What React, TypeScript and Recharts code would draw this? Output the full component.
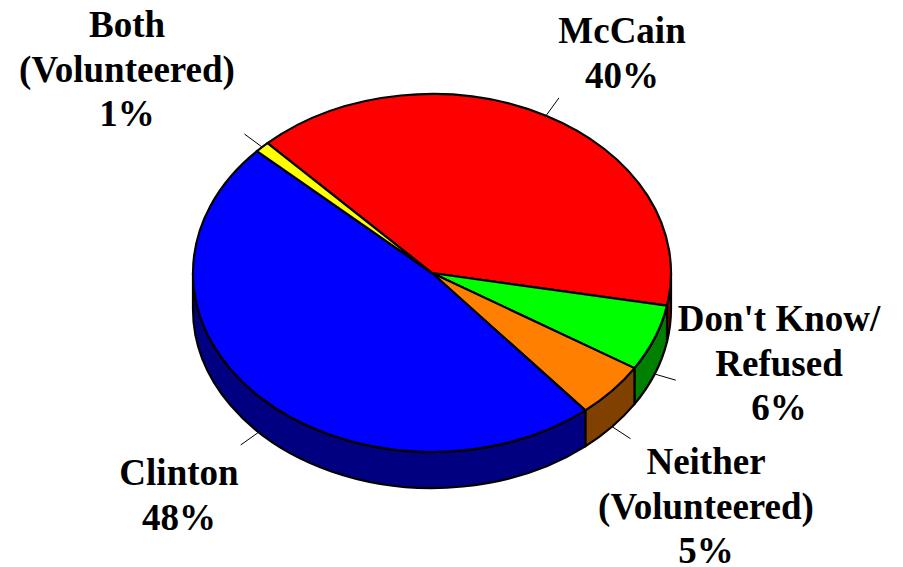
import React from 'react';
import { PieChart, Pie } from 'recharts';

// ---- data ----
const categories = ['McCain', "Don't Know/Refused", 'Neither (Volunteered)', 'Clinton', 'Both (Volunteered)'];
const shares = [40, 6, 5, 48, 1];
const labelNames = [['McCain'], ["Don't Know/", 'Refused'], ['Neither', '(Volunteered)'], ['Clinton'], ['Both', '(Volunteered)']];

// ---- styles / layout ----
const topColors = ['#FF0000', '#00FF00', '#FF8000', '#0000FF', '#FFFF00'];
const sideColors = ['#800000', '#008000', '#804000', '#000080', '#808000'];
const labelPos = [
  { x: 622, y: 43 },
  { x: 779, y: 331 },
  { x: 706, y: 474 },
  { x: 179, y: 485 },
  { x: 127, y: 37 },
];
const K = 0.749; // vertical squash of the tilted pie
const DEPTH = 36;
const LINE_H = 44.5;
const LEADER = 22;

const data = categories.map((name, i) => ({ name, value: shares[i] }));

const rad = (d: number) => (d * Math.PI) / 180;

function frontPieces(a0: number, a1: number): [number, number][] {
  const out: [number, number][] = [];
  for (let n = -2; n <= 2; n++) {
    const lo = -180 + 360 * n;
    const hi = 360 * n;
    const a = Math.max(a0, lo);
    const b = Math.min(a1, hi);
    if (b > a + 1e-6) out.push([a, b]);
  }
  return out;
}

const renderSlice = (props: any) => {
  const { cx, cy, outerRadius, startAngle, endAngle, index, value } = props;
  const rx = outerRadius;
  const ry = outerRadius * K;
  const P = (t: number, dy = 0) => [cx + rx * Math.cos(rad(t)), cy - ry * Math.sin(rad(t)) + dy];
  const s = Math.max(startAngle, endAngle);
  const e = Math.min(startAngle, endAngle);
  const large = s - e > 180 ? 1 : 0;
  const ps = P(s);
  const pe = P(e);
  const top = `M${cx},${cy} L${ps[0]},${ps[1]} A${rx},${ry} 0 ${large} 1 ${pe[0]},${pe[1]} Z`;
  const sides = frontPieces(e, s).map(([a, b]) => {
    const pb = P(b);
    const pa = P(a);
    const pa2 = P(a, DEPTH);
    const pb2 = P(b, DEPTH);
    return `M${pb[0]},${pb[1]} A${rx},${ry} 0 0 1 ${pa[0]},${pa[1]} L${pa2[0]},${pa2[1]} A${rx},${ry} 0 0 0 ${pb2[0]},${pb2[1]} Z`;
  });
  const mid = (s + e) / 2;
  const front = Math.sin(rad(mid)) < 0;
  const edge = P(mid, front ? DEPTH : 0);
  const dx = rx * Math.cos(rad(mid));
  const dy = -ry * Math.sin(rad(mid));
  const len = Math.hypot(dx, dy);
  const end = [edge[0] + (dx / len) * LEADER, edge[1] + (dy / len) * LEADER];
  const lines = [...labelNames[index], `${value}%`];
  const lp = labelPos[index];
  return (
    <g>
      {sides.map((d, i) => (
        <path key={i} d={d} fill={sideColors[index]} stroke="#000" strokeWidth={2.2} strokeLinejoin="round" />
      ))}
      <path d={top} fill={topColors[index]} stroke="#000" strokeWidth={2.2} strokeLinejoin="round" />
      <line x1={edge[0]} y1={edge[1]} x2={end[0]} y2={end[1]} stroke="#000" strokeWidth={1} />
      <text
        x={lp.x}
        y={lp.y}
        textAnchor="middle"
        fontFamily="'Liberation Serif', 'Times New Roman', serif"
        fontWeight="bold"
        fontSize={37}
        fill="#000"
      >
        {lines.map((t, i) => (
          <tspan key={i} x={lp.x} y={lp.y + i * LINE_H}>
            {t}
          </tspan>
        ))}
      </text>
    </g>
  );
};

export default function App() {
  return (
    <div style={{ position: 'absolute', left: 0, top: 0, width: 903, height: 567, background: '#fff' }}>
      <PieChart width={903} height={567} margin={{ top: 0, right: 0, bottom: 0, left: 0 }}>
        <Pie
          data={data}
          dataKey="value"
          nameKey="name"
          cx={432}
          cy={273}
          outerRadius={239}
          startAngle={133.5}
          endAngle={-226.5}
          fill="none"
          stroke="none"
          labelLine={false}
          label={renderSlice}
          isAnimationActive={false}
        />
      </PieChart>
    </div>
  );
}
